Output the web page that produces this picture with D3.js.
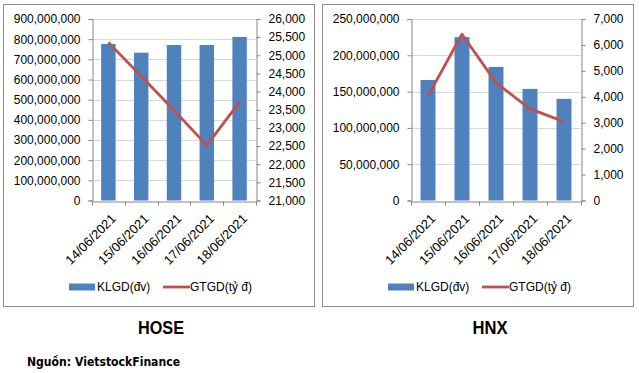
<!DOCTYPE html>
<html><head><meta charset="utf-8">
<script src="https://cdn.jsdelivr.net/npm/d3@7"></script>
<style>
body{margin:0;background:#fff;}
svg text{font-family:"Liberation Sans",Arial,sans-serif;}
</style></head>
<body><svg id="c" width="639" height="373"></svg>
<script>
const dates = ["14/06/2021","15/06/2021","16/06/2021","17/06/2021","18/06/2021"];
const hoseVolume = [776000000, 733000000, 771000000, 771000000, 811000000];
const hoseValue = [25356, 24425, 23486, 22519, 23716];
const hnxVolume = [166000000, 225000000, 184000000, 153700000, 140000000];
const hnxValue = [4034, 6410, 4546, 3533, 3044];
const hoseLeftTicks = [0,100000000,200000000,300000000,400000000,500000000,600000000,700000000,800000000,900000000];
const hoseRightTicks = [21000,21500,22000,22500,23000,23500,24000,24500,25000,25500,26000];
const hnxLeftTicks = [0,50000000,100000000,150000000,200000000,250000000];
const hnxRightTicks = [0,1000,2000,3000,4000,5000,6000,7000];
const legendLabels = ["KLGD(đv)","GTGD(tỷ đ)"];
const titles = ["HOSE","HNX"];
const sourceText = "Nguồn: VietstockFinance";

const svg = d3.select("#c");
const fmt = d3.format(",");
const BAR = "#4f81bd", LINE = "#c0504d", AX = "#868686", GRID = "#d9d9d9";

function drawChart(cfg){
  const g = svg.append("g");
  g.append("rect").attr("x",cfg.bx+0.5).attr("y",4.5).attr("width",311).attr("height",302)
    .attr("fill","#fff").attr("stroke","#8c8c8c").attr("stroke-width",1);
  const x = d3.scaleBand().domain(dates).range([cfg.left,cfg.right]).paddingInner(0.56).paddingOuter(0.28);
  const xc = d3.scaleBand().domain(dates).range([cfg.left,cfg.right]);
  const yL = d3.scaleLinear().domain(cfg.leftDomain).range([200.5,19]);
  const yR = d3.scaleLinear().domain(cfg.rightDomain).range([200.5,19]);
  // grid
  g.append("g").selectAll("line").data(cfg.leftTicks.slice(1)).join("line")
    .attr("x1",cfg.left).attr("x2",cfg.right)
    .attr("y1",d=>Math.round(yL(d))+0.5).attr("y2",d=>Math.round(yL(d))+0.5)
    .attr("stroke",GRID);
  // bars
  g.append("g").selectAll("rect").data(cfg.vol).join("rect")
    .attr("x",(d,i)=>x(dates[i])).attr("width",x.bandwidth())
    .attr("y",d=>yL(d)).attr("height",d=>yL(0)-yL(d)).attr("fill",BAR);
  // axes
  const la = g.append("g").attr("transform",`translate(${cfg.left+0.5},0)`)
    .call(d3.axisLeft(yL).tickValues(cfg.leftTicks).tickFormat(fmt).tickSize(4).tickPadding(8));
  const ra = g.append("g").attr("transform",`translate(${cfg.right+0.5},0)`)
    .call(d3.axisRight(yR).tickValues(cfg.rightTicks).tickFormat(fmt).tickSize(4).tickPadding(8));
  const xa = g.append("g").attr("transform",`translate(0,${Math.round(yL(0))+0.5})`)
    .call(d3.axisBottom(xc).tickSize(0).tickFormat(""));
  [la,ra,xa].forEach(a=>{
    a.select(".domain").attr("stroke",AX);
    a.selectAll(".tick line").attr("stroke",AX);
    a.selectAll("text").attr("fill","#000").style("font-size","12px").style("font-family","Liberation Sans, Arial, sans-serif");
  });
  // x boundary ticks
  const bounds = dates.map(d=>xc(d)).concat([cfg.right]);
  g.append("g").selectAll("line").data(bounds).join("line")
    .attr("x1",d=>Math.round(d)+0.5).attr("x2",d=>Math.round(d)+0.5)
    .attr("y1",Math.round(yL(0))+0.5).attr("y2",Math.round(yL(0))+4.5).attr("stroke",AX);
  // x labels
  g.append("g").selectAll("text").data(dates).join("text")
    .attr("transform",d=>`translate(${xc(d)+xc.bandwidth()/2+2},${213}) rotate(-45)`)
    .attr("text-anchor","end").attr("dy","0.7em").style("font-size","13px").text(d=>d);
  // line
  g.append("path").datum(cfg.val)
    .attr("d",d3.line().x((d,i)=>xc(dates[i])+xc.bandwidth()/2).y(d=>yR(d)))
    .attr("fill","none").attr("stroke",LINE).attr("stroke-width",2.8).attr("stroke-linejoin","round");
  // legend
  const lg = g.append("g");
  lg.append("rect").attr("x",cfg.bx+66).attr("y",283.5).attr("width",26).attr("height",7).attr("fill",BAR);
  lg.append("text").attr("x",cfg.bx+94).attr("y",291).style("font-size","12px").text(legendLabels[0]);
  lg.append("line").attr("x1",cfg.bx+160).attr("x2",cfg.bx+187).attr("y1",287).attr("y2",287)
    .attr("stroke",LINE).attr("stroke-width",2.8);
  lg.append("text").attr("x",cfg.bx+187).attr("y",291).style("font-size","12px").text(legendLabels[1]);
  // title
  svg.append("text").attr("x",cfg.tx).attr("y",334).attr("text-anchor","middle")
    .attr("textLength",cfg.tw).attr("lengthAdjust","spacingAndGlyphs")
    .style("font-weight","bold").style("font-size","19px").text(cfg.title);
}

drawChart({bx:3,left:92,right:256,leftDomain:[0,900000000],rightDomain:[21000,26000],
  leftTicks:hoseLeftTicks,rightTicks:hoseRightTicks,vol:hoseVolume,val:hoseValue,title:titles[0],tx:161,tw:46});
drawChart({bx:322,left:411,right:581,leftDomain:[0,250000000],rightDomain:[0,7000],
  leftTicks:hnxLeftTicks,rightTicks:hnxRightTicks,vol:hnxVolume,val:hnxValue,title:titles[1],tx:490,tw:35});

svg.append("text").attr("x",27).attr("y",366).style("font-family","DejaVu Sans, Verdana, sans-serif")
  .attr("textLength",153).attr("lengthAdjust","spacingAndGlyphs")
  .style("font-weight","bold").style("font-size","12px").text(sourceText);
</script></body></html>
